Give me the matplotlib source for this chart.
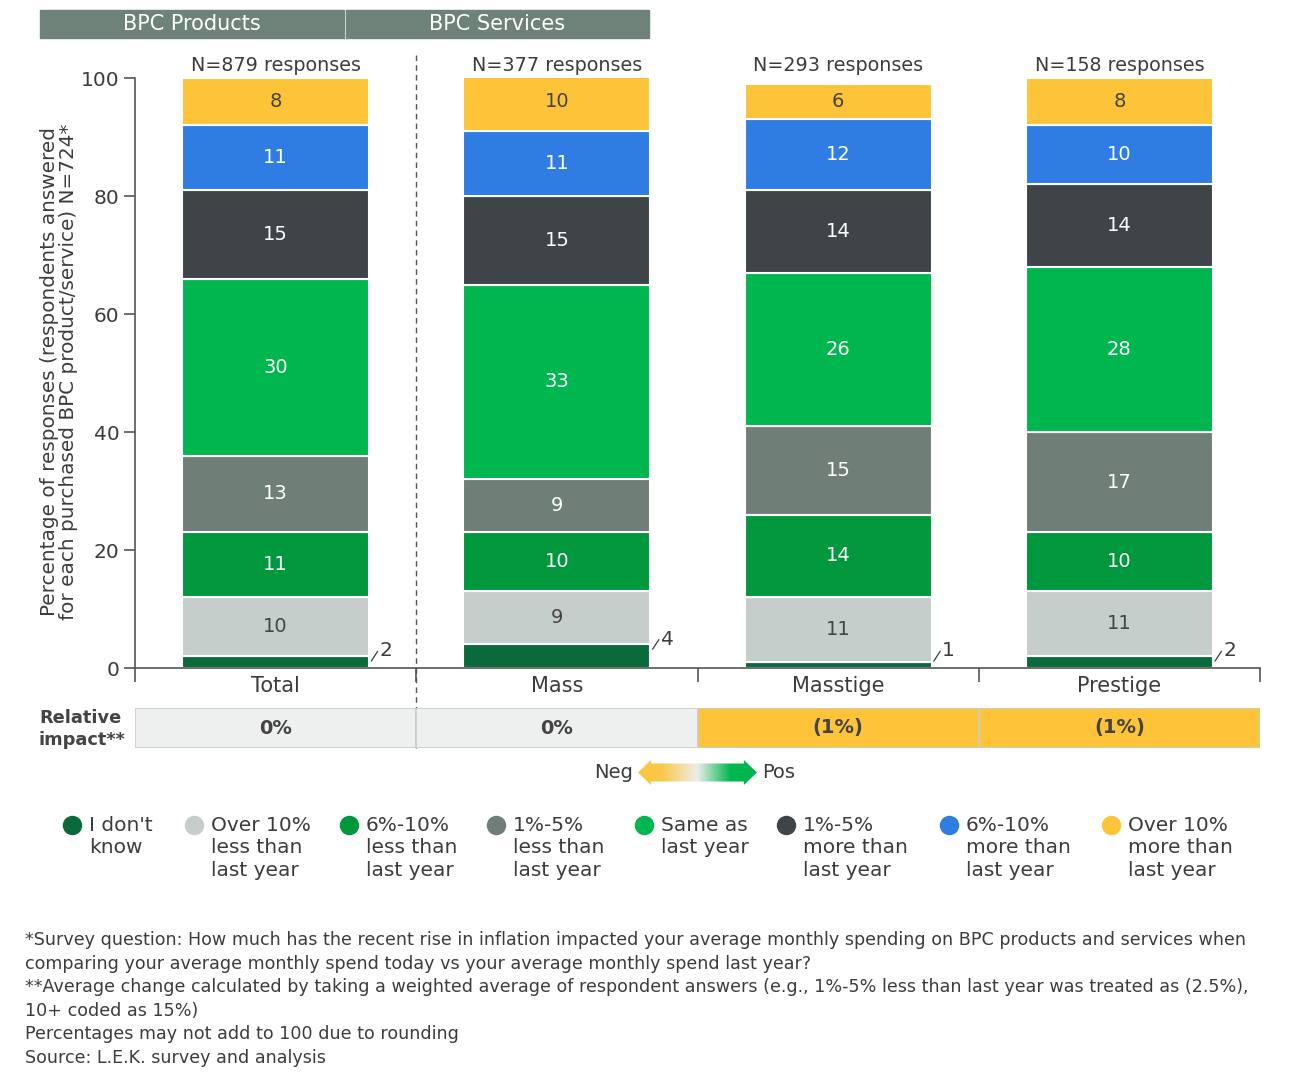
import numpy as np
import matplotlib
matplotlib.use('Agg')
from matplotlib import pyplot as plt
from matplotlib.patches import Rectangle, Polygon
from matplotlib.lines import Line2D
from matplotlib.colors import LinearSegmentedColormap
from matplotlib import transforms

plt.rcParams['font.family'] = ['DejaVu Sans']

# data (bottom segment first)
categories = ['Total', 'Mass', 'Masstige', 'Prestige']
responses = [879, 377, 293, 158]
dont_know = [2, 4, 1, 2]
over10_less = [10, 9, 11, 11]
less_6_10 = [11, 10, 14, 10]
less_1_5 = [13, 9, 15, 17]
same = [30, 33, 26, 28]
more_1_5 = [15, 15, 14, 14]
more_6_10 = [11, 11, 12, 10]
over10_more = [8, 10, 6, 8]
impact_labels = ['0%', '0%', '(1%)', '(1%)']
impact_sign = [0, 0, -1, -1]

segment_names = ["I don't\nknow", "Over 10%\nless than\nlast year", "6%-10%\nless than\nlast year",
                 "1%-5%\nless than\nlast year", "Same as\nlast year", "1%-5%\nmore than\nlast year",
                 "6%-10%\nmore than\nlast year", "Over 10%\nmore than\nlast year"]
segment_values = [dont_know, over10_less, less_6_10, less_1_5, same, more_1_5, more_6_10, over10_more]
segment_colors = ['#0b6a3b', '#c6cecb', '#00973d', '#6f7f77', '#00b74f', '#3f4448', '#2f7de2', '#fdc43a']
text_colors = ['white', '#444444', 'white', 'white', 'white', 'white', 'white', '#444444']

groups = ['BPC Products', 'BPC Services']

W, H = 1300, 1089
def fx(x):
    return x / W
def fy(y):
    return 1 - y / H

fig = plt.figure(figsize=(13, 10.89), dpi=100)
GRAY = '#555555'
TXT = '#3c3c3c'

# header boxes
header_x = [(40, 344), (346, 649)]
for (x0, x1), g in zip(header_x, groups):
    fig.patches.append(Rectangle((fx(x0), fy(38)), fx(x1) - fx(x0), fy(10) - fy(38),
                                 transform=fig.transFigure, color='#6e8279', zorder=0))
    fig.text(fx((x0 + x1) / 2), fy(23.5), g, ha='center', va='center', color='white', fontsize=15)

# main stacked bars
ax = fig.add_axes([fx(135), fy(668), fx(1260) - fx(135), fy(78) - fy(668)])
x = np.arange(len(categories))
width = 0.665
bottom = np.zeros(len(categories))
for k, (vals, col) in enumerate(zip(segment_values, segment_colors)):
    vals = np.array(vals, dtype=float)
    ax.bar(x, vals, width, bottom=bottom, color=col, edgecolor='white', linewidth=1.5, zorder=2)
    for i in range(len(categories)):
        if k == 0:
            xr = x[i] + width / 2
            yt = max(vals[i], 2) + 0.8
            ax.plot([xr + 0.008, xr + 0.03], [yt - 1.6, yt], color=TXT, lw=0.9, clip_on=False)
            ax.text(xr + 0.037, yt + 0.1, '%d' % vals[i], ha='left', va='center', fontsize=14.5, color=TXT)
        else:
            ax.text(x[i], bottom[i] + vals[i] / 2, '%d' % vals[i], ha='center', va='center',
                    fontsize=14, color=text_colors[k])
    bottom += vals

for i, n in enumerate(responses):
    ax.text(x[i], 102.2, 'N=%d responses' % n, ha='center', va='center', fontsize=13.8, color=TXT)

ax.set_xlim(-0.5, 3.5)
ax.set_ylim(0, 100)
for s in ['top', 'right']:
    ax.spines[s].set_visible(False)
ax.spines['left'].set_color(GRAY)
ax.spines['bottom'].set_color(GRAY)
ax.spines['left'].set_linewidth(1.2)
ax.spines['bottom'].set_linewidth(1.2)
ax.set_yticks(range(0, 101, 20))
ax.tick_params(axis='y', length=8, width=1.2, color=GRAY, labelsize=14.5, labelcolor=TXT, pad=3)
ax.set_xticks(np.arange(-0.5, 3.6, 1))
ax.set_xticklabels([])
ax.tick_params(axis='x', which='major', length=10, width=1.2, color=GRAY)
ax.set_xticks(x, minor=True)
ax.set_xticklabels(categories, minor=True)
ax.tick_params(axis='x', which='minor', length=0, labelsize=15, labelcolor=TXT, pad=6)

fig.text(fx(59), fy(372), 'Percentage of responses (respondents answered\nfor each purchased BPC product/service) N=724*',
         rotation=90, ha='center', va='center', fontsize=14.4, color=TXT, linespacing=1.05)

# dashed divider between Total and the segments
trans = transforms.blended_transform_factory(ax.transData, ax.transAxes)
ax.plot([0.5, 0.5], [(668 - 55) / 590, (668 - 748) / 590], transform=trans, ls=(0, (4, 3)),
        color=GRAY, lw=1, clip_on=False, zorder=5)

# relative impact row
ax2 = fig.add_axes([fx(135), fy(748), fx(1260) - fx(135), fy(708) - fy(748)])
imp_colors = ['#fdc43a' if s < 0 else ('#00b74f' if s > 0 else '#eef0ef') for s in impact_sign]
ax2.bar(x, np.ones(len(x)), 1.0, color=imp_colors, edgecolor='#c9cdcb', linewidth=1.2)
for i, lab in enumerate(impact_labels):
    ax2.text(x[i], 0.5, lab, ha='center', va='center', fontsize=14, fontweight='bold', color='#444444')
ax2.set_xlim(-0.5, 3.5)
ax2.set_ylim(0, 1)
ax2.axis('off')
fig.text(fx(39), fy(729), 'Relative\nimpact**', ha='left', va='center', fontsize=12.8,
         fontweight='bold', color='#444444', linespacing=1.25)

# Neg / Pos gradient arrow
ax3 = fig.add_axes([fx(638), fy(785), fx(757) - fx(638), fy(760) - fy(785)])
cmap = LinearSegmentedColormap.from_list('np', [(0, '#fdc43a'), (0.2, '#fcc84a'), (0.5, '#eaeeec'),
                                                (0.78, '#00b74f'), (1, '#00b74f')])
im = ax3.imshow(np.linspace(0, 1, 256)[None, :], aspect='auto', cmap=cmap, extent=[0, 1, 0, 1])
arrow = Polygon([(0, 0.5), (0.11, 1), (0.11, 0.86), (0.89, 0.86), (0.89, 1), (1, 0.5),
                 (0.89, 0), (0.89, 0.14), (0.11, 0.14), (0.11, 0)], closed=True,
                transform=ax3.transData, facecolor='none', edgecolor='none')
ax3.add_patch(arrow)
im.set_clip_path(arrow)
ax3.set_xlim(0, 1)
ax3.set_ylim(0, 1)
ax3.axis('off')
fig.text(fx(633), fy(772), 'Neg', ha='right', va='center', fontsize=14, color=TXT)
fig.text(fx(762), fy(772), 'Pos', ha='left', va='center', fontsize=14, color=TXT)

# legend
leg_x = [72, 194, 349, 496, 644, 786, 949, 1111]
for lx, name, col in zip(leg_x, segment_names, segment_colors):
    fig.add_artist(Line2D([fx(lx)], [fy(825)], marker='o', markersize=13, color=col,
                          markeredgecolor=col, transform=fig.transFigure))
    fig.text(fx(lx + 17), fy(816), name, ha='left', va='top', fontsize=14.5, color=TXT, linespacing=1.22)

notes = ('*Survey question: How much has the recent rise in inflation impacted your average monthly spending on BPC products and services when\n'
         'comparing your average monthly spend today vs your average monthly spend last year?\n'
         '**Average change calculated by taking a weighted average of respondent answers (e.g., 1%-5% less than last year was treated as (2.5%),\n'
         '10+ coded as 15%)\n'
         'Percentages may not add to 100 due to rounding\n'
         'Source: L.E.K. survey and analysis')
fig.text(fx(25), fy(931), notes, ha='left', va='top', fontsize=12.6, color=TXT, linespacing=1.4)

plt.savefig('out.png', dpi=100)
plt.close()
